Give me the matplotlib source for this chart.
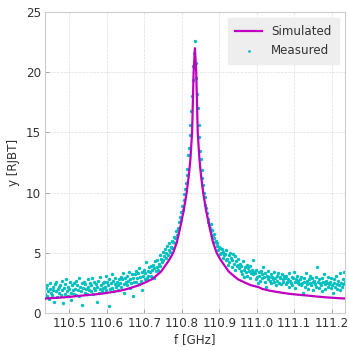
"""Resonance peak: simulated vs measured response."""

import numpy as np
import matplotlib.pyplot as plt

# simulated curve
sim_f = [110.435, 110.46, 110.485, 110.51, 110.535, 110.56, 110.585, 110.61,
         110.635, 110.655, 110.67, 110.685, 110.70, 110.72, 110.732, 110.745,
         110.755, 110.764, 110.77, 110.777, 110.787, 110.795, 110.805,
         110.813, 110.819, 110.823, 110.8275, 110.8315, 110.835,
         110.8385, 110.8425, 110.847, 110.851, 110.857, 110.865, 110.875,
         110.883, 110.893, 110.900, 110.906, 110.915, 110.925, 110.938,
         110.950, 110.970, 110.985, 111.005, 111.015, 111.035, 111.06,
         111.085, 111.11, 111.135, 111.16, 111.185, 111.21, 111.235]
sim_y = [1.2, 1.25, 1.3, 1.37, 1.45, 1.52, 1.6, 1.72, 1.85, 2.0, 2.15, 2.3,
         2.5, 2.8, 3.1, 3.45, 3.9, 4.3, 4.6, 5.0, 5.9, 7.0, 8.5, 10.0, 11.5,
         12.8, 15.0, 20.0, 22.0,
         20.0, 15.0, 12.8, 11.5, 10.0, 8.5, 7.0, 5.9, 5.0, 4.6, 4.3, 3.9,
         3.45, 3.1, 2.8, 2.5, 2.3, 2.15, 2.0, 1.85, 1.72, 1.6, 1.52, 1.45,
         1.37, 1.3, 1.25, 1.2]

# measured points, one every 2 MHz starting at 110.435 GHz
meas_start = 110.435
meas_step = 0.002
meas_y = [
    1.6, 2.1, 1.4, 2.3, 1.8, 1.2, 2.0, 2.5, 1.7, 1.5, 2.2, 1.9, 0.9, 2.4, 1.8, 2.6, 1.3, 2.0, 1.7, 2.2,
    2.3, 1.5, 2.7, 1.9, 0.8, 2.1, 1.6, 2.4, 2.8, 1.8, 1.4, 2.2, 2.0, 2.6, 1.7, 1.1, 2.3, 1.9, 2.5, 1.6,
    2.0, 2.7, 1.5, 2.3, 1.9, 2.9, 1.4, 2.2, 1.8, 2.5, 0.7, 2.1, 2.6, 1.7, 2.4, 2.0, 1.6, 2.8, 2.2, 1.9,
    2.5, 1.8, 2.3, 2.9, 1.6, 2.1, 2.6, 1.9, 2.4, 0.9, 2.2, 2.7, 1.7, 2.0, 3.0, 2.3, 1.8, 2.5, 2.1, 2.6,
    2.2, 3.1, 1.9, 2.6, 2.3, 0.6, 2.8, 2.0, 2.5, 3.2, 2.1, 2.7, 1.8, 2.4, 2.9, 2.2, 2.6, 1.9, 2.3, 2.8,
    2.5, 3.0, 2.2, 2.8, 3.3, 2.4, 1.7, 2.9, 2.6, 3.1, 2.3, 2.7, 3.4, 2.1, 2.8, 2.5, 3.2, 1.4, 2.9, 2.6,
    3.2, 2.6, 3.5, 2.9, 3.3, 2.4, 3.7, 3.0, 2.7, 3.4, 1.9, 3.1, 3.6, 2.8, 3.3, 4.2, 2.9, 3.5, 3.1, 3.8,
    3.4, 3.9, 3.1, 3.6, 4.0, 2.9, 3.7, 4.3, 3.5, 3.8, 4.4, 3.6, 4.1, 4.8, 3.9, 4.5, 4.2, 5.1, 4.4, 4.7,
    5.3, 4.6, 5.0, 5.6, 4.8, 5.2, 5.8, 5.1, 5.5, 6.0, 5.4, 5.9, 6.3, 5.8, 6.2, 6.8, 6.5, 7.1, 7.0, 7.6,
    8.0, 7.7, 8.4, 8.9, 8.6, 9.4, 9.9, 10.3, 10.8, 11.5, 12.0, 13.1, 13.7, 14.8, 15.6, 16.8, 18.0, 19.4, 20.5, 21.6,
    22.6, 20.8, 19.5, 18.2, 17.0, 15.6, 14.6, 13.5, 12.8, 11.9, 11.2, 10.6, 10.0, 9.6, 9.0, 8.7, 8.3, 7.8, 7.6, 7.3,
    7.1, 7.4, 6.8, 6.9, 6.5, 6.2, 6.6, 5.9, 6.0, 5.6, 5.8, 5.2, 5.5, 4.9, 5.4, 5.0, 5.3, 4.6, 5.1, 4.8,
    4.9, 4.4, 5.2, 4.5, 4.0, 4.8, 4.2, 5.0, 4.6, 3.8, 4.4, 4.9, 4.1, 3.6, 4.7, 4.3, 3.9, 4.5, 4.0, 3.7,
    4.1, 3.5, 3.9, 3.2, 4.3, 3.6, 3.0, 3.8, 3.4, 4.0, 3.1, 3.7, 3.5, 2.9, 3.9, 3.3, 3.6, 4.4, 3.2, 3.4,
    3.3, 2.8, 3.6, 3.0, 2.5, 3.4, 3.1, 2.7, 3.5, 3.2, 2.9, 3.8, 3.0, 2.6, 3.3, 2.2, 3.1, 3.5, 2.8, 3.0,
    2.7, 3.2, 2.5, 3.0, 2.8, 3.4, 2.6, 2.9, 2.3, 3.1, 2.7, 3.3, 2.5, 2.9, 3.0, 2.4, 3.2, 2.8, 2.6, 3.1,
    2.9, 2.4, 3.1, 2.6, 2.8, 2.2, 3.3, 2.7, 2.5, 3.0, 2.3, 2.9, 3.4, 2.6, 2.1, 2.8, 3.1, 2.5, 2.7, 2.4,
    2.8, 2.3, 3.0, 2.5, 1.7, 2.9, 2.6, 2.2, 3.3, 2.7, 2.4, 2.0, 2.8, 3.1, 2.5, 2.3, 2.9, 2.6, 1.9, 2.7,
    2.4, 3.0, 2.2, 3.8, 2.6, 2.1, 2.8, 2.5, 2.3, 2.9, 1.8, 2.6, 3.2, 2.4, 2.0, 2.7, 2.5, 2.2, 3.0, 2.4,
    2.6, 2.1, 2.9, 2.3, 1.7, 2.5, 2.8, 2.2, 3.1, 2.4, 2.0, 2.7, 2.3, 1.9, 3.3, 2.5, 2.2, 2.8, 2.4, 3.4,
    2.6,
]
meas_f = np.round(meas_start + meas_step * np.arange(len(meas_y)), 3)

x_ticks = [110.5, 110.6, 110.7, 110.8, 110.9, 111.0, 111.1, 111.2]
y_ticks = [0, 5, 10, 15, 20, 25]

plt.rcParams.update({
    "font.family": "DejaVu Sans",
    "font.size": 8.6,
    "text.color": "#333333",
    "axes.labelcolor": "#333333",
    "xtick.direction": "in",
    "ytick.direction": "in",
})

fig = plt.figure(figsize=(3.49, 3.47), dpi=100)
ax = fig.add_axes([0.129, 0.098, 0.859, 0.867])

ax.plot(sim_f, sim_y, color="m", lw=1.6, label="Simulated", zorder=3,
        solid_joinstyle="round")
ax.scatter(meas_f, meas_y, s=6, color="c", marker="o", linewidths=0,
           label="Measured", zorder=2)

ax.set_xlim(110.435, 111.235)
ax.set_ylim(0, 25)
ax.set_xticks(x_ticks)
ax.set_xticklabels([f"{t:.1f}" for t in x_ticks])
ax.set_yticks(y_ticks)
ax.tick_params(length=3, width=0.6, color="#999999", labelcolor="#333333",
               pad=3)
ax.grid(True, ls="--", lw=0.5, color="#dddddd")
ax.set_axisbelow(True)
for sp in ax.spines.values():
    sp.set_color("#cccccc")
    sp.set_linewidth(0.8)

ax.set_xlabel("f [GHz]", labelpad=2)
ax.set_ylabel("y [RJBT]", labelpad=4)

ax.legend(loc="upper right", frameon=True, fancybox=False,
          facecolor="#eeeeee", edgecolor="#eeeeee", framealpha=1,
          markerscale=0.8, borderpad=0.6, handlelength=2.2)

plt.savefig("out.png", dpi=100)
plt.close()
